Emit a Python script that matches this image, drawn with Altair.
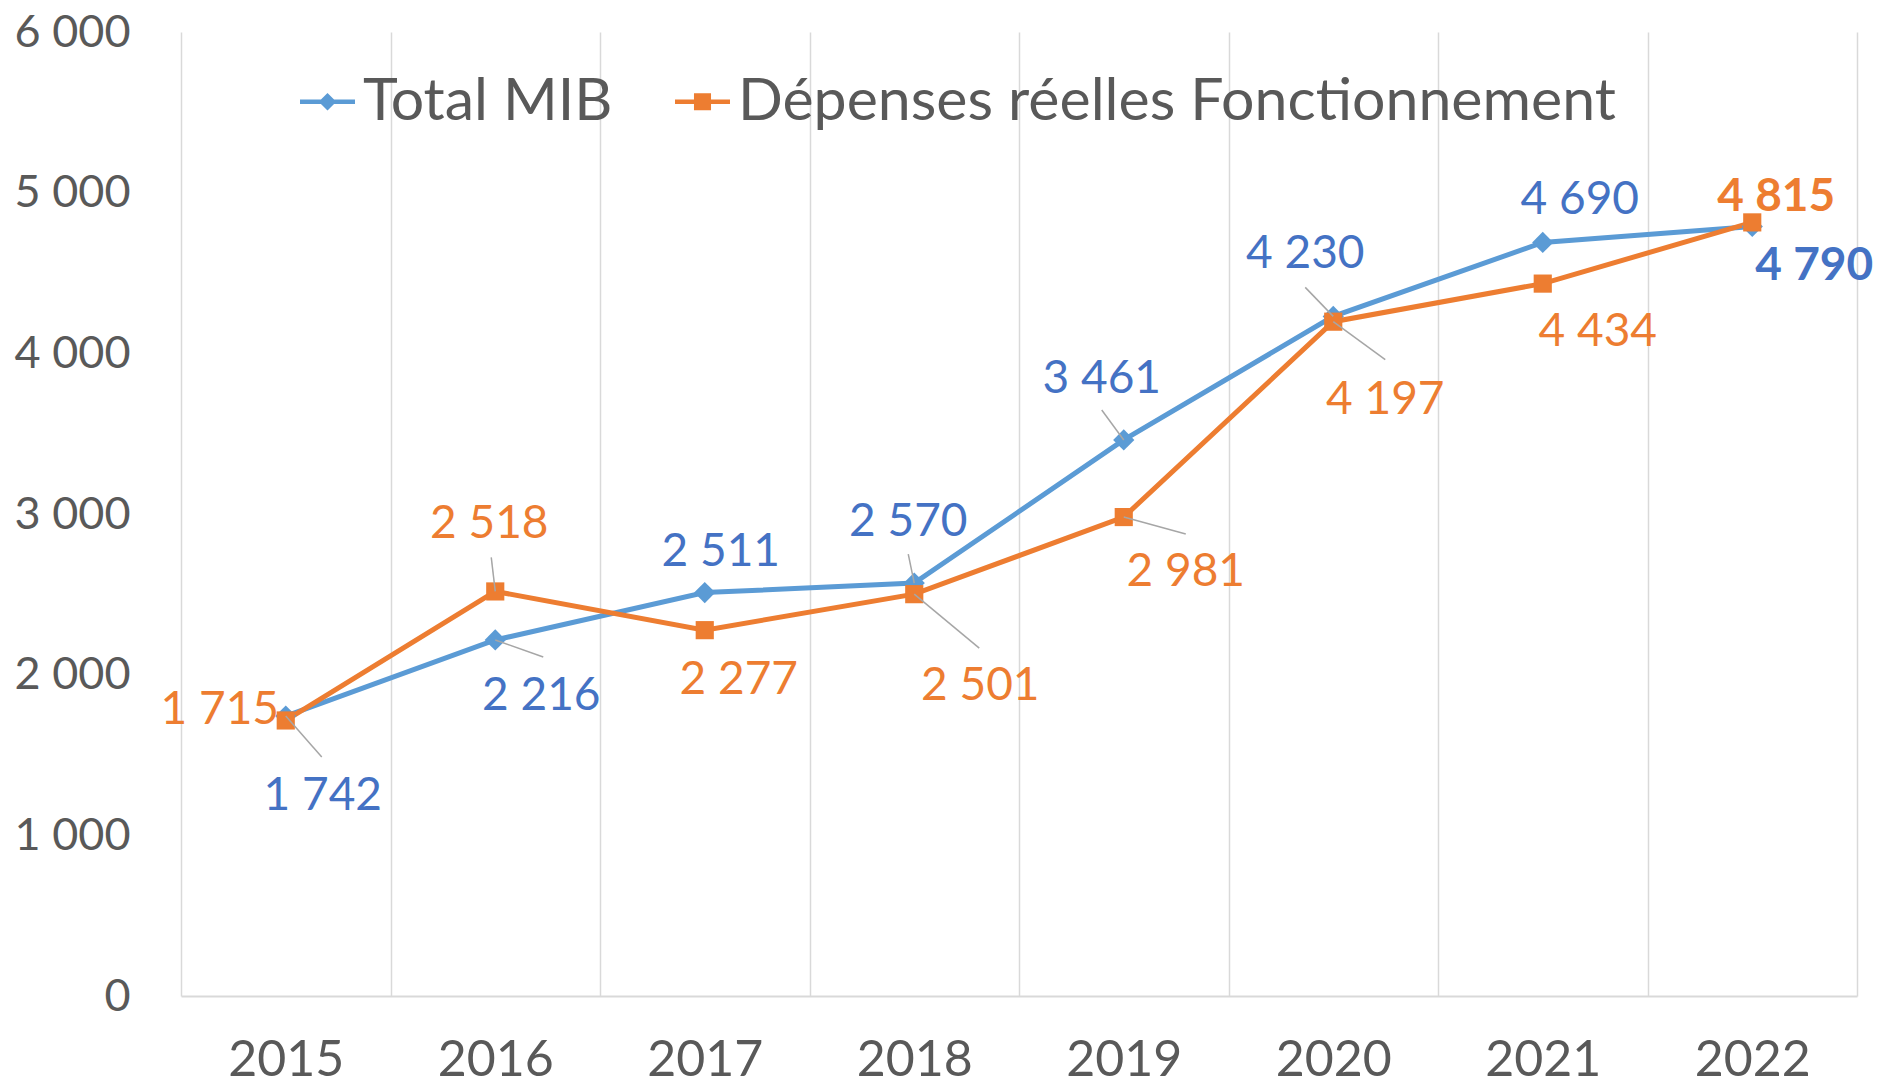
import altair as alt
import pandas as pd

# ---------------- data ----------------
years = ["2015", "2016", "2017", "2018", "2019", "2020", "2021", "2022"]
total_mib = [1742, 2216, 2511, 2570, 3461, 4230, 4690, 4790]
depenses = [1715, 2518, 2277, 2501, 2981, 4197, 4434, 4815]
series_names = ["Total MIB", "Dépenses réelles Fonctionnement"]

# ---------------- styles / placement ----------------
line_colors = ["#5B9BD5", "#ED7D31"]
label_colors = ["#4472C4", "#ED7D31"]
marker_shapes = ["diamond", "square"]
marker_sizes = [450, 330]
# label offsets (px) from data point to label centre (dy positive = down)
mib_label_dx = [37, 46, 16, -6, -22, -28, 37, 62]
mib_label_dy = [80, 56, -41, -61, -61, -62, -42, 40]
dep_label_dx = [-66, -6, 34, 66, 62, 52, 55, 24]
dep_label_dy = [-10, -67, 50, 92, 55, 78, 48, -25]
# leader-line end offsets (px) from data point; None = no leader line
mib_lead = [(36, 41), (48, 17), None, (-6, -29), (-22, -30), (-28, -29), None, None]
dep_lead = [None, (-4, -34), None, (65, 54), (62, 17), (52, 38), None, None]
bold_flags = [False, False, False, False, False, False, False, True]

W, H = 1676, 964
YMAX = 6000
ppc = W / len(years)
ppu = H / YMAX
FONT = "Lato"
GREY = "#595959"

rows, lrows, rrows = [], [], []
for s, vals, ldx, ldy, leads in zip(
    series_names,
    [total_mib, depenses],
    [mib_label_dx, dep_label_dx],
    [mib_label_dy, dep_label_dy],
    [mib_lead, dep_lead],
):
    for i, v in enumerate(vals):
        rows.append({"series": s, "i": i, "value": v})
        lrows.append({
            "series": s,
            "lx": i + ldx[i] / ppc,
            "ly": v - ldy[i] / ppu,
            "text": f"{v:,}".replace(",", " "),
            "bold": bold_flags[i],
        })
        if leads[i] is not None:
            ex, ey = leads[i]
            rrows.append({"x": i, "y": v, "x2": i + ex / ppc, "y2": v - ey / ppu})

df = pd.DataFrame(rows)
dl = pd.DataFrame(lrows)
dr = pd.DataFrame(rrows)

x_vals = [k / 2 - 0.5 for k in range(2 * len(years) + 1)]
year_arr = "[" + ",".join(f"'{y}'" for y in years) + "]"
x_label_expr = f"datum.value % 1 === 0 ? {year_arr}[datum.value] : ''"

x_scale = alt.Scale(domain=[-0.5, len(years) - 0.5], nice=False, zero=False)
y_scale = alt.Scale(domain=[0, YMAX], nice=False)

x_axis = alt.Axis(
    values=x_vals,
    labelExpr=x_label_expr,
    grid=True,
    gridColor="#D9D9D9",
    gridWidth=1.5,
    gridOpacity={"condition": {"test": "datum.value % 1 !== 0", "value": 1}, "value": 0},
    ticks=False,
    domain=True,
    domainColor="#D9D9D9",
    domainWidth=2,
    labelFont=FONT,
    labelFontSize=50,
    labelColor=GREY,
    labelPadding=64,
    labelBaseline="middle",
    labelOverlap=False,
    labelFlush=False,
    title=None,
)
y_axis = alt.Axis(
    values=list(range(0, YMAX + 1, 1000)),
    labelExpr="replace(format(datum.value, ','), ',', ' ')",
    grid=False,
    ticks=False,
    domain=False,
    labelFont=FONT,
    labelFontSize=45,
    labelColor=GREY,
    labelPadding=51,
    title=None,
)

base = alt.Chart(df)

line_layers, point_layers = [], []
for k, s in enumerate(series_names):
    sub = base.transform_filter(alt.datum.series == s)
    enc_x = alt.X("i:Q", scale=x_scale, axis=x_axis) if k == 0 else alt.X("i:Q")
    enc_y = alt.Y("value:Q", scale=y_scale, axis=y_axis) if k == 0 else alt.Y("value:Q")
    line_layers.append(
        sub.mark_line(strokeWidth=5, color=line_colors[k]).encode(x=enc_x, y=enc_y)
    )
    point_layers.append(
        sub.mark_point(
            shape=marker_shapes[k], filled=True, size=marker_sizes[k],
            fill=line_colors[k], opacity=1, strokeWidth=0,
        ).encode(x="i:Q", y="value:Q")
    )

leaders = alt.Chart(dr).mark_rule(color="#A6A6A6", strokeWidth=1.5).encode(
    x="x:Q", y="y:Q", x2="x2:Q", y2="y2:Q"
)

label_layers = []
for s, lc in zip(series_names, label_colors):
    for b in (False, True):
        label_layers.append(
            alt.Chart(dl)
            .transform_filter((alt.datum.series == s) & (alt.datum.bold == b))
            .mark_text(
                font=FONT,
                fontSize=46,
                fontWeight="bold" if b else "normal",
                align="center",
                baseline="middle",
                fill=lc,
            )
            .encode(x="lx:Q", y="ly:Q", text="text:N")
        )

# legend symbols: a short line (thin filled bar) with the series marker on it
legend_shapes = [
    "M-1,-0.08L1,-0.08L1,0.08L-1,0.08Z M0,-0.32L0.32,0L0,0.32L-0.32,0Z",
    "M-1,-0.08L1,-0.08L1,0.08L-1,0.08Z M-0.31,-0.31L0.31,-0.31L0.31,0.31L-0.31,0.31Z",
]
leg = alt.Legend(
    orient="none",
    legendX=117,
    legendY=40,
    direction="horizontal",
    title=None,
    labelFont=FONT,
    labelFontSize=59,
    labelColor=GREY,
    labelOffset=6,
    symbolSize=3025,
    symbolOpacity=1,
    symbolStrokeWidth=0,
    columnPadding=60,
    labelLimit=2000,
)
legend_layer = base.mark_point(filled=True, opacity=0).encode(
    x="i:Q",
    y="value:Q",
    color=alt.Color("series:N", scale=alt.Scale(domain=series_names, range=line_colors), legend=leg),
    shape=alt.Shape("series:N", scale=alt.Scale(domain=series_names, range=legend_shapes), legend=leg),
)

chart = alt.layer(
    *line_layers, *point_layers, leaders, *label_layers, legend_layer
).properties(
    width=W,
    height=H,
    autosize=alt.AutoSizeParams(type="none"),
    padding={"left": 173, "top": 24, "right": 17, "bottom": 110},
).configure_view(stroke=None)

chart.save("out.html", embed_options={"renderer": "svg", "actions": False})
